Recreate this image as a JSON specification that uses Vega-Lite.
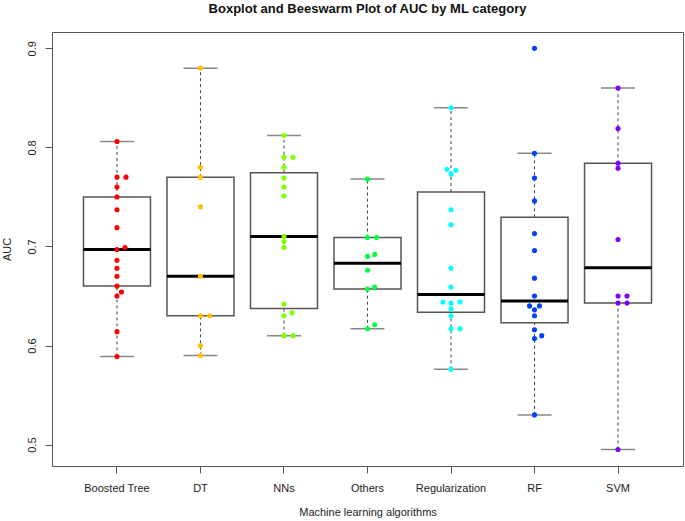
{
  "$schema": "https://vega.github.io/schema/vega-lite/v6.json",
  "autosize": {"type": "none"},
  "width": 631,
  "height": 434,
  "padding": {"left": 52, "top": 32, "right": 2, "bottom": 55},
  "background": "white",
  "config": {
    "font": "Liberation Sans",
    "view": {"stroke": "#555555", "strokeWidth": 1}
  },
  "title": {
    "text": "Boxplot and Beeswarm Plot of AUC by ML category",
    "fontSize": 13,
    "fontWeight": "bold",
    "color": "#111111",
    "anchor": "middle",
    "baseline": "bottom",
    "offset": 14,
    "dy": 11
  },
  "datasets": {
    "points": [
      {"algo": "Boosted Tree", "auc": 0.806, "swarm": 0},
      {"algo": "Boosted Tree", "auc": 0.770, "swarm": 0},
      {"algo": "Boosted Tree", "auc": 0.770, "swarm": 1},
      {"algo": "Boosted Tree", "auc": 0.760, "swarm": 0},
      {"algo": "Boosted Tree", "auc": 0.750, "swarm": 0},
      {"algo": "Boosted Tree", "auc": 0.737, "swarm": 0},
      {"algo": "Boosted Tree", "auc": 0.719, "swarm": 0},
      {"algo": "Boosted Tree", "auc": 0.699, "swarm": 0.9},
      {"algo": "Boosted Tree", "auc": 0.697, "swarm": 0},
      {"algo": "Boosted Tree", "auc": 0.686, "swarm": 0},
      {"algo": "Boosted Tree", "auc": 0.678, "swarm": 0},
      {"algo": "Boosted Tree", "auc": 0.670, "swarm": 0},
      {"algo": "Boosted Tree", "auc": 0.660, "swarm": 0},
      {"algo": "Boosted Tree", "auc": 0.654, "swarm": 0.5},
      {"algo": "Boosted Tree", "auc": 0.650, "swarm": 0},
      {"algo": "Boosted Tree", "auc": 0.614, "swarm": 0},
      {"algo": "Boosted Tree", "auc": 0.589, "swarm": 0},
      {"algo": "DT", "auc": 0.880, "swarm": 0},
      {"algo": "DT", "auc": 0.780, "swarm": 0},
      {"algo": "DT", "auc": 0.770, "swarm": 0},
      {"algo": "DT", "auc": 0.740, "swarm": 0},
      {"algo": "DT", "auc": 0.670, "swarm": 0},
      {"algo": "DT", "auc": 0.630, "swarm": 0},
      {"algo": "DT", "auc": 0.630, "swarm": 1},
      {"algo": "DT", "auc": 0.600, "swarm": 0},
      {"algo": "DT", "auc": 0.590, "swarm": 0},
      {"algo": "NNs", "auc": 0.812, "swarm": 0},
      {"algo": "NNs", "auc": 0.790, "swarm": 0},
      {"algo": "NNs", "auc": 0.790, "swarm": 1},
      {"algo": "NNs", "auc": 0.780, "swarm": 0},
      {"algo": "NNs", "auc": 0.769, "swarm": 0},
      {"algo": "NNs", "auc": 0.760, "swarm": 0},
      {"algo": "NNs", "auc": 0.751, "swarm": 0},
      {"algo": "NNs", "auc": 0.710, "swarm": 0},
      {"algo": "NNs", "auc": 0.705, "swarm": 0},
      {"algo": "NNs", "auc": 0.699, "swarm": 0},
      {"algo": "NNs", "auc": 0.642, "swarm": 0},
      {"algo": "NNs", "auc": 0.633, "swarm": 0.9},
      {"algo": "NNs", "auc": 0.630, "swarm": 0},
      {"algo": "NNs", "auc": 0.610, "swarm": 0},
      {"algo": "NNs", "auc": 0.610, "swarm": 1},
      {"algo": "Others", "auc": 0.768, "swarm": 0},
      {"algo": "Others", "auc": 0.709, "swarm": 0},
      {"algo": "Others", "auc": 0.709, "swarm": 1},
      {"algo": "Others", "auc": 0.692, "swarm": 0.8},
      {"algo": "Others", "auc": 0.690, "swarm": 0},
      {"algo": "Others", "auc": 0.676, "swarm": 0},
      {"algo": "Others", "auc": 0.659, "swarm": 0.8},
      {"algo": "Others", "auc": 0.657, "swarm": 0},
      {"algo": "Others", "auc": 0.621, "swarm": 0.8},
      {"algo": "Others", "auc": 0.617, "swarm": 0},
      {"algo": "Regularization", "auc": 0.840, "swarm": 0},
      {"algo": "Regularization", "auc": 0.778, "swarm": -0.45},
      {"algo": "Regularization", "auc": 0.777, "swarm": 0.55},
      {"algo": "Regularization", "auc": 0.773, "swarm": 0},
      {"algo": "Regularization", "auc": 0.737, "swarm": 0},
      {"algo": "Regularization", "auc": 0.722, "swarm": 0},
      {"algo": "Regularization", "auc": 0.678, "swarm": 0},
      {"algo": "Regularization", "auc": 0.659, "swarm": 0},
      {"algo": "Regularization", "auc": 0.644, "swarm": -0.9},
      {"algo": "Regularization", "auc": 0.643, "swarm": 0},
      {"algo": "Regularization", "auc": 0.644, "swarm": 1},
      {"algo": "Regularization", "auc": 0.637, "swarm": 0},
      {"algo": "Regularization", "auc": 0.630, "swarm": 0},
      {"algo": "Regularization", "auc": 0.617, "swarm": 0},
      {"algo": "Regularization", "auc": 0.617, "swarm": 1},
      {"algo": "Regularization", "auc": 0.576, "swarm": 0},
      {"algo": "RF", "auc": 0.900, "swarm": 0},
      {"algo": "RF", "auc": 0.794, "swarm": 0},
      {"algo": "RF", "auc": 0.769, "swarm": 0},
      {"algo": "RF", "auc": 0.746, "swarm": 0},
      {"algo": "RF", "auc": 0.713, "swarm": 0},
      {"algo": "RF", "auc": 0.696, "swarm": 0},
      {"algo": "RF", "auc": 0.668, "swarm": 0},
      {"algo": "RF", "auc": 0.650, "swarm": 0},
      {"algo": "RF", "auc": 0.640, "swarm": -0.55},
      {"algo": "RF", "auc": 0.640, "swarm": 0.55},
      {"algo": "RF", "auc": 0.636, "swarm": 0},
      {"algo": "RF", "auc": 0.630, "swarm": 0},
      {"algo": "RF", "auc": 0.616, "swarm": 0},
      {"algo": "RF", "auc": 0.610, "swarm": 0.8},
      {"algo": "RF", "auc": 0.607, "swarm": 0},
      {"algo": "RF", "auc": 0.530, "swarm": 0},
      {"algo": "SVM", "auc": 0.860, "swarm": 0},
      {"algo": "SVM", "auc": 0.819, "swarm": 0},
      {"algo": "SVM", "auc": 0.784, "swarm": 0},
      {"algo": "SVM", "auc": 0.779, "swarm": 0},
      {"algo": "SVM", "auc": 0.707, "swarm": 0},
      {"algo": "SVM", "auc": 0.650, "swarm": 0},
      {"algo": "SVM", "auc": 0.650, "swarm": 1},
      {"algo": "SVM", "auc": 0.643, "swarm": 0},
      {"algo": "SVM", "auc": 0.643, "swarm": 1},
      {"algo": "SVM", "auc": 0.495, "swarm": 0}
    ],
    "boxes": [
      {"algo": "Boosted Tree", "lower": 0.589, "q1": 0.660, "median": 0.697, "q3": 0.750, "upper": 0.806},
      {"algo": "DT", "lower": 0.590, "q1": 0.630, "median": 0.670, "q3": 0.770, "upper": 0.880},
      {"algo": "NNs", "lower": 0.610, "q1": 0.6375, "median": 0.710, "q3": 0.7745, "upper": 0.812},
      {"algo": "Others", "lower": 0.617, "q1": 0.657, "median": 0.683, "q3": 0.709, "upper": 0.768},
      {"algo": "Regularization", "lower": 0.576, "q1": 0.6335, "median": 0.6515, "q3": 0.755, "upper": 0.840},
      {"algo": "RF", "lower": 0.530, "q1": 0.623, "median": 0.645, "q3": 0.7295, "upper": 0.794},
      {"algo": "SVM", "lower": 0.495, "q1": 0.643, "median": 0.6785, "q3": 0.784, "upper": 0.860}
    ]
  },
  "encoding": {
    "x": {
      "field": "algo",
      "type": "nominal",
      "sort": ["Boosted Tree", "DT", "NNs", "Others", "Regularization", "RF", "SVM"],
      "scale": {"type": "band", "paddingInner": 0, "paddingOuter": 0.278},
      "axis": {
        "title": "Machine learning algorithms",
        "labelAngle": 0,
        "labelFontSize": 11,
        "labelColor": "#222222",
        "labelPadding": 9,
        "titleFontSize": 11,
        "titleFontWeight": "normal",
        "titleColor": "#222222",
        "titlePadding": 13,
        "domain": false,
        "grid": false,
        "ticks": true,
        "tickSize": 7,
        "tickColor": "#555555"
      }
    }
  },
  "layer": [
    {
      "data": {"name": "boxes"},
      "mark": {"type": "rule", "color": "#444444", "strokeWidth": 1, "strokeDash": [3, 3]},
      "encoding": {
        "y": {
          "field": "lower",
          "type": "quantitative",
          "scale": {"domain": [0.4784, 0.9165], "nice": false, "zero": false},
          "axis": {
            "title": "AUC",
            "values": [0.5, 0.6, 0.7, 0.8, 0.9],
            "format": ".1f",
            "labelAngle": -90,
            "labelAlign": "center",
            "labelBaseline": "bottom",
            "labelFontSize": 11,
            "labelColor": "#222222",
            "labelPadding": 8,
            "titleFontSize": 11,
            "titleFontWeight": "normal",
            "titleColor": "#222222",
            "titlePadding": 14,
            "domain": false,
            "grid": false,
            "tickSize": 7,
            "tickColor": "#555555"
          }
        },
        "y2": {"field": "q1"}
      }
    },
    {
      "data": {"name": "boxes"},
      "mark": {"type": "rule", "color": "#444444", "strokeWidth": 1, "strokeDash": [3, 3]},
      "encoding": {
        "y": {"field": "q3", "type": "quantitative"},
        "y2": {"field": "upper"}
      }
    },
    {
      "data": {"name": "boxes"},
      "mark": {"type": "tick", "color": "#555555", "size": 34, "thickness": 1.5, "orient": "horizontal"},
      "encoding": {
        "y": {"field": "lower", "type": "quantitative"}
      }
    },
    {
      "data": {"name": "boxes"},
      "mark": {"type": "tick", "color": "#555555", "size": 34, "thickness": 1.5, "orient": "horizontal"},
      "encoding": {
        "y": {"field": "upper", "type": "quantitative"}
      }
    },
    {
      "data": {"name": "boxes"},
      "mark": {"type": "bar", "fill": "white", "stroke": "#555555", "strokeWidth": 1.5, "width": 67},
      "encoding": {
        "y": {"field": "q1", "type": "quantitative"},
        "y2": {"field": "q3"}
      }
    },
    {
      "data": {"name": "boxes"},
      "mark": {"type": "tick", "color": "#000000", "size": 67, "thickness": 3, "orient": "horizontal", "opacity": 1},
      "encoding": {
        "y": {"field": "median", "type": "quantitative"}
      }
    },
    {
      "data": {"name": "points"},
      "mark": {"type": "circle", "size": 26, "opacity": 1},
      "encoding": {
        "y": {"field": "auc", "type": "quantitative"},
        "xOffset": {
          "field": "swarm",
          "type": "quantitative",
          "scale": {"domain": [-1, 1], "range": [32.75, 50.75]}
        },
        "color": {
          "field": "algo",
          "type": "nominal",
          "scale": {
            "domain": ["Boosted Tree", "DT", "NNs", "Others", "Regularization", "RF", "SVM"],
            "range": ["#FF0000", "#FFBF00", "#80FF00", "#00FF40", "#00FFFF", "#0040FF", "#8000FF"]
          },
          "legend": null
        }
      }
    }
  ]
}
